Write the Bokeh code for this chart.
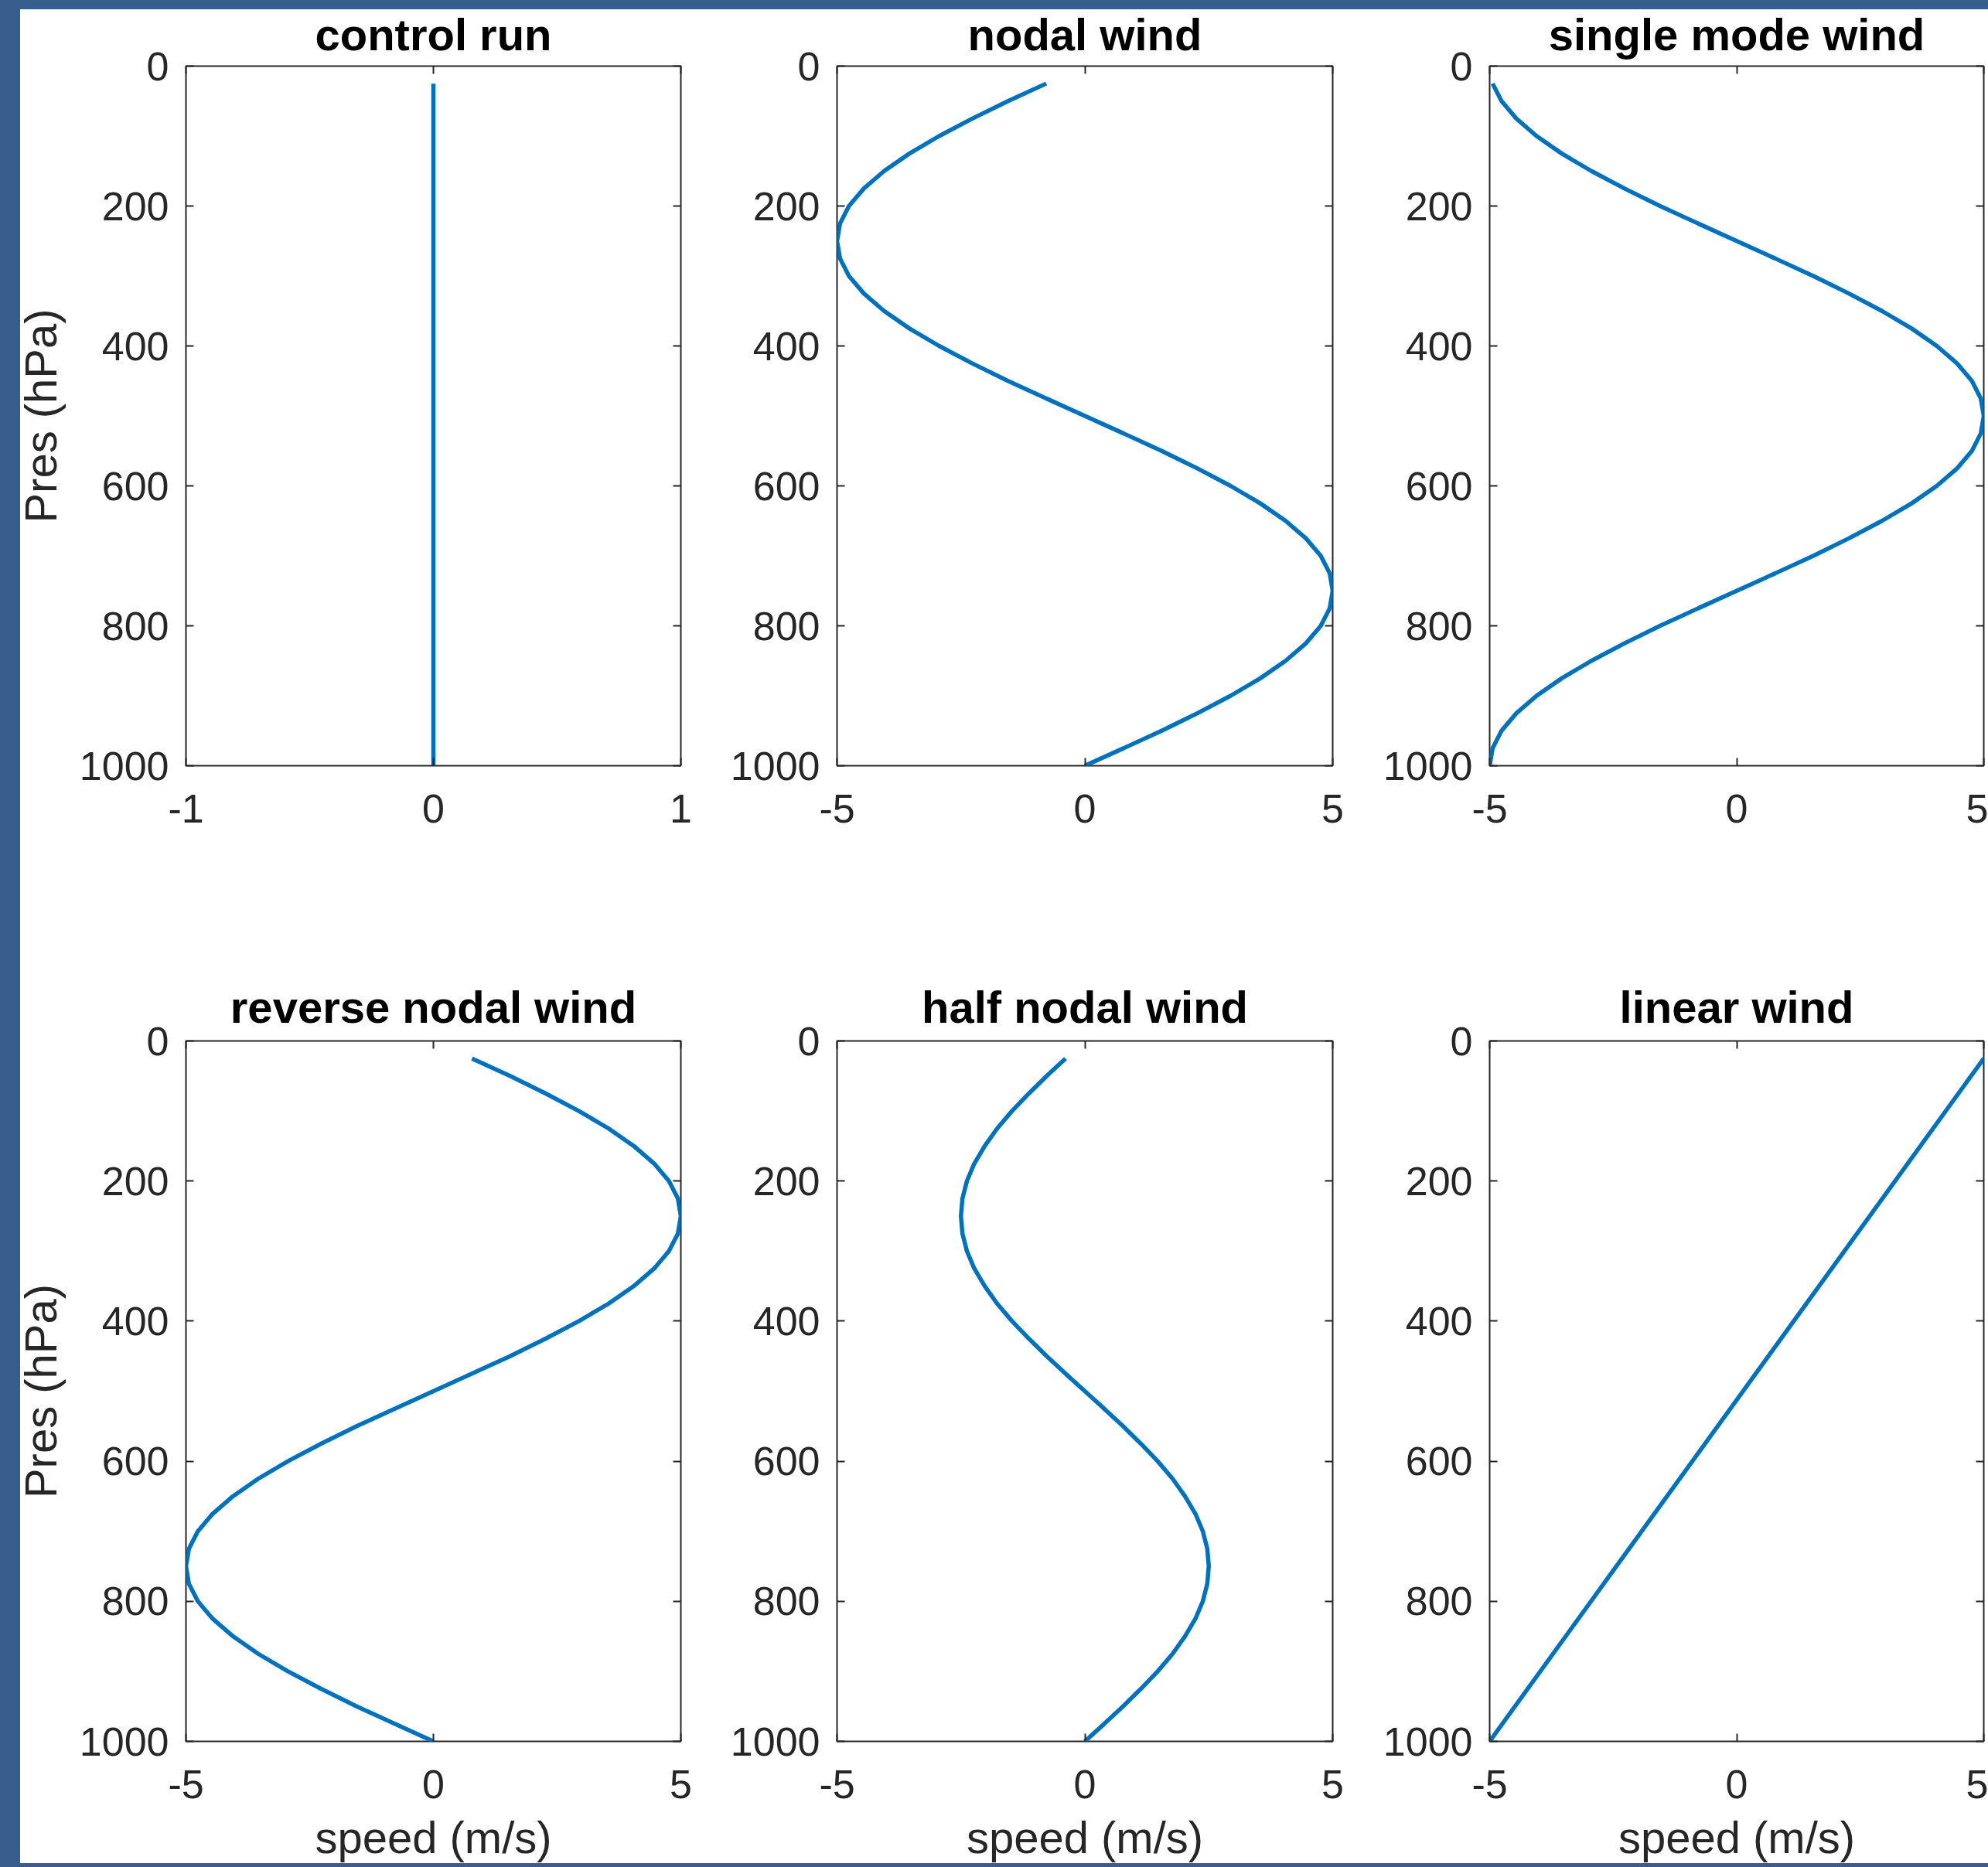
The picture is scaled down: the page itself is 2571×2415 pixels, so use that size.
from bokeh.plotting import figure
from bokeh.models import (Range1d, FixedTicker, LinearAxis, Div,
                          CustomLabelingPolicy)
from bokeh.layouts import row, column
from bokeh.embed import file_html
from bokeh.resources import INLINE

# Pressure levels (hPa), surface to top
pres = [1000, 975, 950, 925, 900, 875, 850, 825, 800, 775,
        750, 725, 700, 675, 650, 625, 600, 575, 550, 525,
        500, 475, 450, 425, 400, 375, 350, 325, 300, 275,
        250, 225, 200, 175, 150, 125, 100, 75, 50, 25]

# Wind speed profiles (m/s) on the levels above
control_pres = [1000, 25]
control_speed = [0.0, 0.0]

nodal_speed = [0.00, 0.78, 1.55, 2.27, 2.94, 3.54, 4.05, 4.46, 4.76, 4.94,
               5.00, 4.94, 4.76, 4.46, 4.05, 3.54, 2.94, 2.27, 1.55, 0.78,
               0.00, -0.78, -1.55, -2.27, -2.94, -3.54, -4.05, -4.46, -4.76, -4.94,
               -5.00, -4.94, -4.76, -4.46, -4.05, -3.54, -2.94, -2.27, -1.55, -0.78]

single_mode_speed = [-5.00, -4.94, -4.76, -4.46, -4.05, -3.54, -2.94, -2.27, -1.55, -0.78,
                     0.00, 0.78, 1.55, 2.27, 2.94, 3.54, 4.05, 4.46, 4.76, 4.94,
                     5.00, 4.94, 4.76, 4.46, 4.05, 3.54, 2.94, 2.27, 1.55, 0.78,
                     0.00, -0.78, -1.55, -2.27, -2.94, -3.54, -4.05, -4.46, -4.76, -4.94]

reverse_nodal_speed = [0.00, -0.78, -1.55, -2.27, -2.94, -3.54, -4.05, -4.46, -4.76, -4.94,
                       -5.00, -4.94, -4.76, -4.46, -4.05, -3.54, -2.94, -2.27, -1.55, -0.78,
                       0.00, 0.78, 1.55, 2.27, 2.94, 3.54, 4.05, 4.46, 4.76, 4.94,
                       5.00, 4.94, 4.76, 4.46, 4.05, 3.54, 2.94, 2.27, 1.55, 0.78]

half_nodal_speed = [0.00, 0.39, 0.77, 1.13, 1.47, 1.77, 2.02, 2.23, 2.38, 2.47,
                    2.50, 2.47, 2.38, 2.23, 2.02, 1.77, 1.47, 1.13, 0.77, 0.39,
                    0.00, -0.39, -0.77, -1.13, -1.47, -1.77, -2.02, -2.23, -2.38, -2.47,
                    -2.50, -2.47, -2.38, -2.23, -2.02, -1.77, -1.47, -1.13, -0.77, -0.39]

linear_pres = [1000, 25]
linear_speed = [-5.0, 5.0]

pres_ticks = [0, 200, 400, 600, 800, 1000]
narrow_ticks = [-1, 0, 1]
wide_ticks = [-5, 0, 5]

FONT = "Liberation Sans"
INK = "#262626"
LINE = "#0072BD"
EDGE = "#365d8b"

PAGE_W, PAGE_H = 2571, 2415
BAND_LEFT, BAND_TOP, BAND_BOTTOM = 26, 12, 5

# hide tick labels on the mirrored top/right axes
NO_LABELS = """
for (const i of indices) { indices.unset(i) }
return indices
"""


def edge_band(left, top, width, height):
    """A window-edge strip painted on top of the plot grid."""
    return Div(text="",
               styles={"position": "fixed", "left": f"{left}px", "top": f"{top}px",
                       "width": f"{width}px", "height": f"{height}px",
                       "min-width": "0", "min-height": "0",
                       "padding": "0", "margin": "0", "border": "none",
                       "box-sizing": "border-box", "overflow": "hidden",
                       "background-color": EDGE, "z-index": "100"})


def panel(title, xs, ys, xlim, xticks, size, borders, title_standoff,
          ylabel=None, xlabel=None):
    w, h = size
    left, right, top, bottom = borders
    p = figure(width=w, height=h, title=title,
               x_range=Range1d(*xlim), y_range=Range1d(1000, 0),
               output_backend="svg", toolbar_location=None,
               min_border_left=left, min_border_right=right,
               min_border_top=top, min_border_bottom=bottom)
    p.background_fill_color = "white"
    p.border_fill_color = "white"
    p.outline_line_color = INK
    p.outline_line_width = 2
    p.outline_line_alpha = 1.0
    p.grid.visible = False

    p.title.align = "center"
    p.title.vertical_align = "bottom"
    p.title.standoff = title_standoff
    p.title.text_font = FONT
    p.title.text_font_size = "58px"
    p.title.text_font_style = "bold"
    p.title.text_color = "black"

    # tick-only axes on the top and right to close the box
    p.add_layout(LinearAxis(), "above")
    p.add_layout(LinearAxis(), "right")

    for ax in p.xaxis:
        ax.ticker = FixedTicker(ticks=xticks)
        ax.major_label_overrides = {t: str(t) for t in xticks}
    for ax in p.yaxis:
        ax.ticker = FixedTicker(ticks=pres_ticks)

    for ax in p.axis:
        ax.axis_line_color = None
        ax.major_tick_in = 10
        ax.major_tick_out = 0
        ax.major_tick_line_color = INK
        ax.major_tick_line_width = 2
        ax.minor_tick_line_color = None
        ax.major_label_text_font = FONT
        ax.major_label_text_font_size = "52px"
        ax.major_label_text_color = INK
        ax.axis_label_text_font = FONT
        ax.axis_label_text_font_size = "58px"
        ax.axis_label_text_font_style = "normal"
        ax.axis_label_text_color = INK

    bottom_ax, top_ax = p.below[0], p.above[0]
    left_ax, right_ax = p.left[0], p.right[0]
    bottom_ax.major_label_standoff = 37
    left_ax.major_label_standoff = 22
    for ax in (top_ax, right_ax):
        ax.major_label_policy = CustomLabelingPolicy(code=NO_LABELS)
        ax.major_label_text_font_size = "0px"
        ax.major_label_standoff = 0

    if ylabel:
        left_ax.axis_label = ylabel
        left_ax.axis_label_standoff = 15
    if xlabel:
        bottom_ax.axis_label = xlabel
        bottom_ax.axis_label_standoff = 15

    p.line(xs, ys, line_color=LINE, line_width=5.5)
    return p


# column widths with (left, right) borders
cols = [(915, 240, 35), (845, 167, 37), (811, 166, 6)]
# row heights with (top, bottom) borders and title standoff
rows = [(1181, 85, 191, 18), (1234, 165, 163, 23)]


def geom(c, r):
    w, l, rr = cols[c]
    h, t, b, s = rows[r]
    return (w, h), (l, rr, t, b), s


f1 = panel("control run", control_speed, control_pres, (-1, 1), narrow_ticks,
           *geom(0, 0), ylabel="Pres (hPa)")
f2 = panel("nodal wind", nodal_speed, pres, (-5, 5), wide_ticks, *geom(1, 0))
f3 = panel("single mode wind", single_mode_speed, pres, (-5, 5), wide_ticks, *geom(2, 0))
f4 = panel("reverse nodal wind", reverse_nodal_speed, pres, (-5, 5), wide_ticks,
           *geom(0, 1), ylabel="Pres (hPa)", xlabel="speed (m/s)")
f5 = panel("half nodal wind", half_nodal_speed, pres, (-5, 5), wide_ticks,
           *geom(1, 1), xlabel="speed (m/s)")
f6 = panel("linear wind", linear_speed, linear_pres, (-5, 5), wide_ticks,
           *geom(2, 1), xlabel="speed (m/s)")

page = column(
    row(f1, f2, f3, styles={"background-color": "white"}),
    row(f4, f5, f6, styles={"background-color": "white"}),
    edge_band(0, 0, PAGE_W, BAND_TOP),
    edge_band(0, 0, BAND_LEFT, PAGE_H),
    edge_band(0, PAGE_H - BAND_BOTTOM, PAGE_W, BAND_BOTTOM),
    styles={"background-color": "white"},
)

open("out.html", "w").write(file_html(page, INLINE))
